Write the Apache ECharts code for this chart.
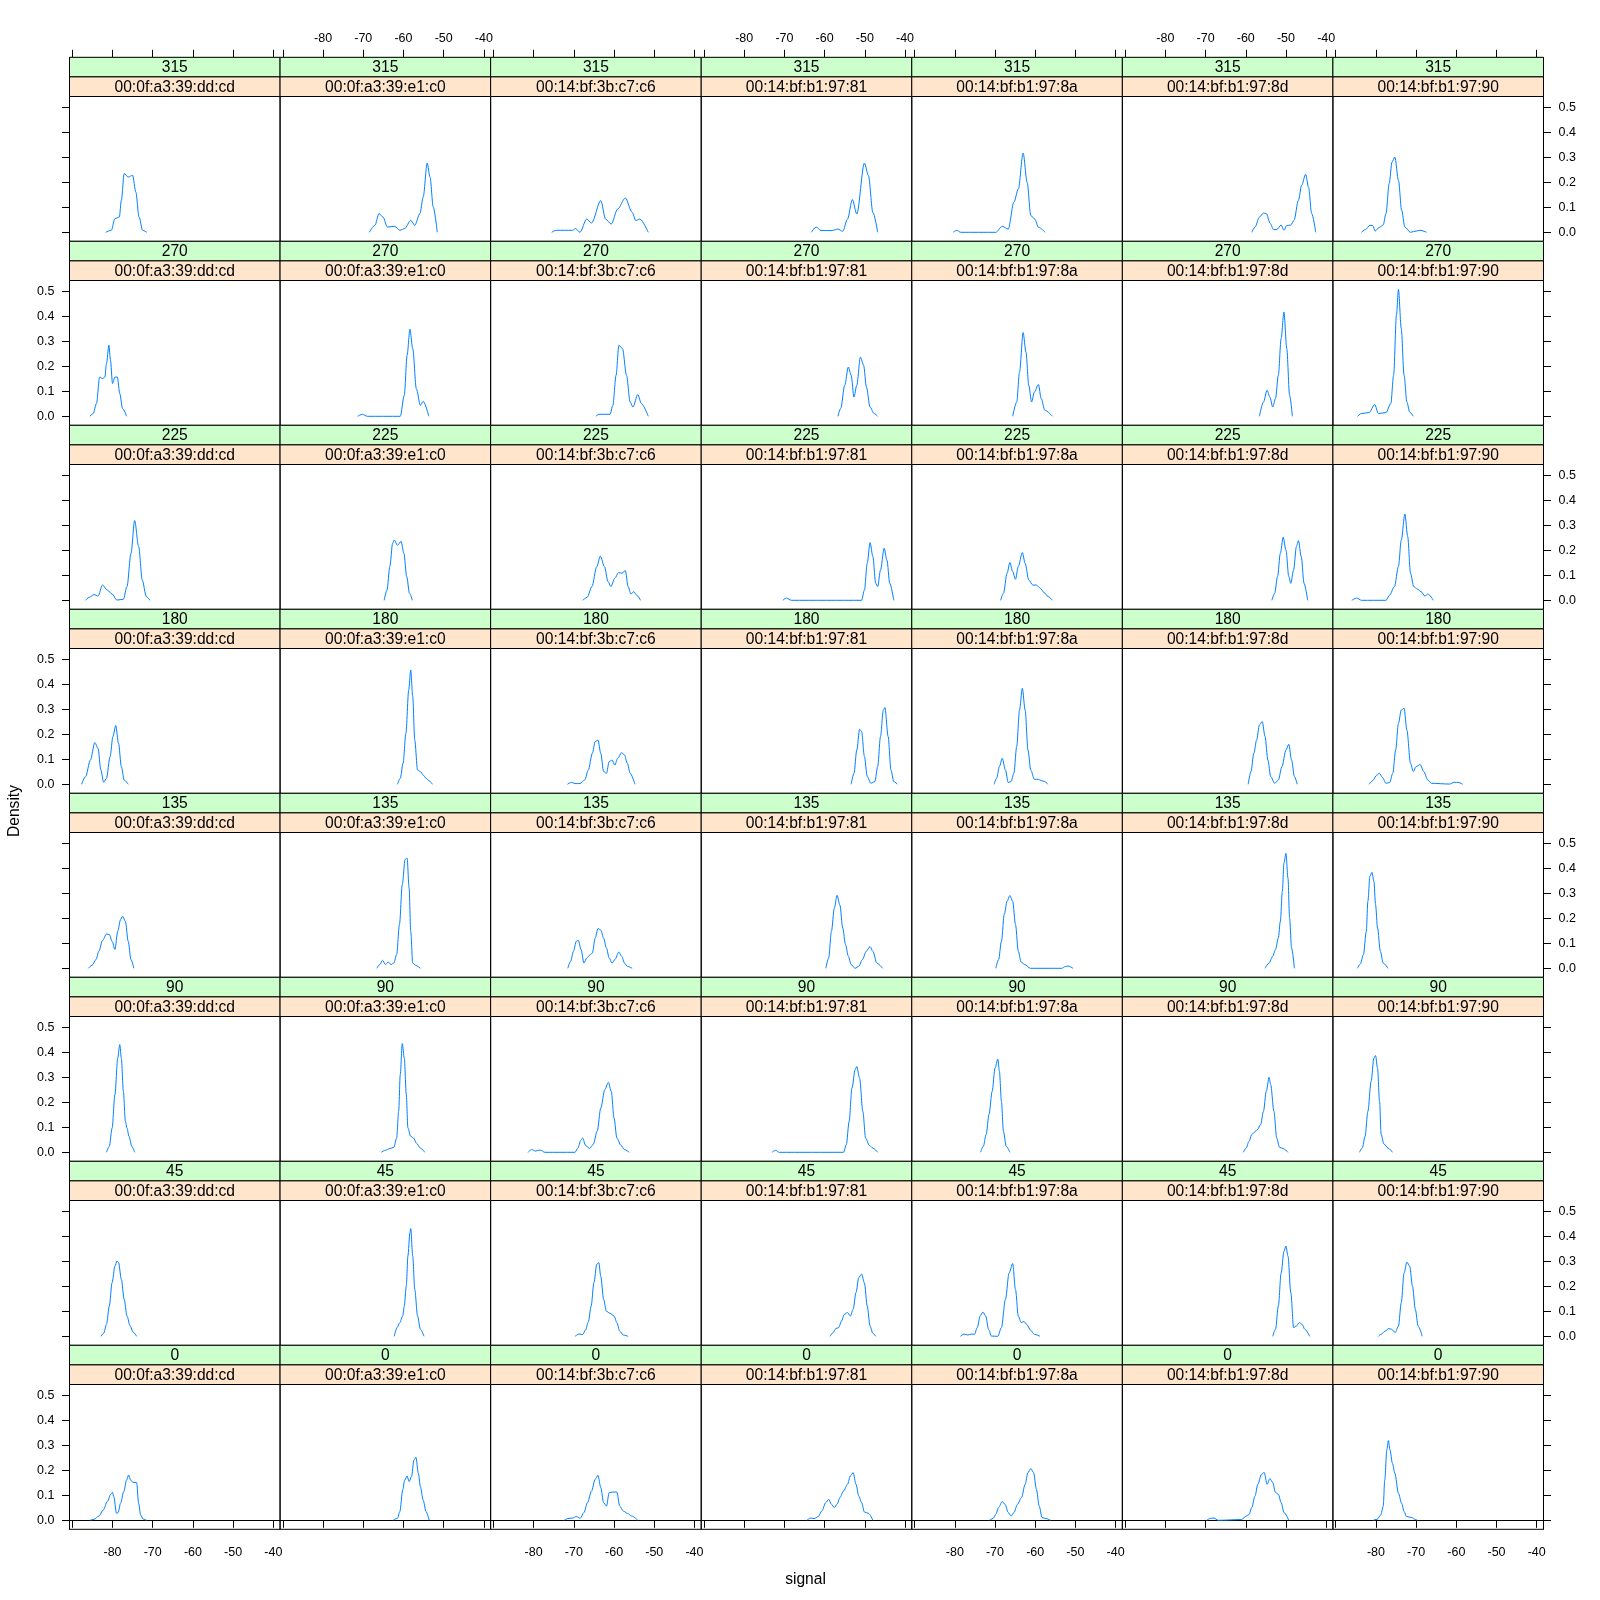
<!DOCTYPE html>
<html><head><meta charset="utf-8">
<script src="https://cdn.jsdelivr.net/npm/echarts@6/dist/echarts.min.js"></script>
<style>html,body{margin:0;padding:0;background:#fff}#c{width:1600px;height:1600px}</style>
</head><body><div id="c"></div>
<script>
const angles = ['315','270','225','180','135','90','45','0'];
const macs = ['00:0f:a3:39:dd:cd','00:0f:a3:39:e1:c0','00:14:bf:3b:c7:c6','00:14:bf:b1:97:81','00:14:bf:b1:97:8a','00:14:bf:b1:97:8d','00:14:bf:b1:97:90'];
const xTickValues = [-90,-80,-70,-60,-50,-40];
const xLabelValues = [-80,-70,-60,-50,-40];
const yTickValues = [0,0.1,0.2,0.3,0.4,0.5];

// density curves [signal, density], one list per MAC, one group per angle
const d315 = [
 [[-81.7,0],[-80.3,0.008],[-79.4,0.055],[-78.3,0.061],[-77.8,0.128],[-77.1,0.235],[-76.1,0.221],[-75.0,0.228],[-74.2,0.161],[-73.4,0.061],[-72.5,0.008],[-71.5,0]],
 [[-68.5,0],[-67.1,0.028],[-66.1,0.075],[-65.1,0.061],[-64.0,0.021],[-62.2,0.024],[-60.9,0.008],[-59.7,0.015],[-58.2,0.048],[-57.2,0.028],[-55.9,0.075],[-55.1,0.141],[-54.1,0.277],[-53.4,0.221],[-52.6,0.101],[-51.6,0]],
 [[-75.5,0],[-74.4,0.008],[-70.3,0.008],[-69.6,0.015],[-68.5,0],[-66.8,0.053],[-65.6,0.037],[-63.3,0.127],[-62.1,0.053],[-60.7,0.033],[-59.1,0.093],[-57.2,0.137],[-55.5,0.08],[-54.6,0.047],[-53.6,0.053],[-51.5,0]],
 [[-63.3,0],[-62.1,0.021],[-60.9,0.007],[-58.1,0.007],[-56.7,0.013],[-55.5,0.004],[-54.3,0.053],[-53.1,0.131],[-52.0,0.073],[-50.1,0.277],[-49.1,0.227],[-48.0,0.08],[-46.8,0]],
 [[-80.4,0],[-79.5,0.008],[-78.5,0],[-69.8,0],[-68.2,0.024],[-66.7,0.013],[-65.3,0.12],[-64.2,0.173],[-63.0,0.317],[-62.0,0.2],[-61.1,0.067],[-60.1,0.053],[-59.2,0.02],[-57.5,0]],
 [[-58.5,0],[-57.7,0.021],[-56.6,0.061],[-55.6,0.077],[-54.9,0.075],[-53.9,0.035],[-53.1,0.011],[-52.3,0.011],[-51.2,0.029],[-50.5,0.008],[-49.8,0.027],[-48.8,0.029],[-48.0,0.048],[-46.9,0.128],[-46.1,0.188],[-45.1,0.232],[-44.4,0.181],[-43.6,0.075],[-42.6,0]],
 [[-83.6,0],[-82.6,0.011],[-81.5,0.028],[-80.8,0.027],[-80.2,0.005],[-79.2,0.019],[-78.2,0.029],[-77.5,0.075],[-76.7,0.195],[-76.0,0.281],[-75.3,0.301],[-74.4,0.208],[-73.6,0.088],[-72.8,0.021],[-71.4,0],[-70.0,0.005],[-69.0,0.008],[-67.4,0]]
];
const d270 = [
 [[-85.6,0],[-84.8,0.011],[-84.0,0.051],[-83.2,0.157],[-82.5,0.151],[-81.9,0.157],[-81.5,0.211],[-80.9,0.284],[-80.5,0.224],[-80.0,0.131],[-79.4,0.157],[-78.8,0.157],[-78.2,0.091],[-77.5,0.031],[-76.5,0]],
 [[-71.4,0],[-70.2,0.008],[-69.0,0],[-60.8,0],[-59.8,0.084],[-59.1,0.244],[-58.4,0.348],[-57.7,0.271],[-56.8,0.11],[-55.8,0.044],[-55.1,0.06],[-53.7,0]],
 [[-64.5,0],[-63.8,0.008],[-61.0,0.008],[-60.3,0.044],[-59.5,0.164],[-58.8,0.284],[-57.9,0.271],[-56.9,0.164],[-56.0,0.057],[-55.3,0.037],[-54.1,0.087],[-53.2,0.051],[-51.5,0]],
 [[-56.7,0],[-56.0,0.031],[-55.0,0.124],[-54.1,0.197],[-53.4,0.164],[-52.7,0.077],[-52.0,0.124],[-51.1,0.237],[-50.3,0.204],[-49.6,0.117],[-48.7,0.037],[-47.7,0.011],[-46.8,0]],
 [[-65.6,0],[-64.6,0.057],[-63.9,0.177],[-63.0,0.335],[-62.3,0.257],[-61.6,0.124],[-60.9,0.057],[-60.2,0.097],[-59.2,0.127],[-58.5,0.071],[-57.6,0.024],[-55.7,0]],
 [[-56.6,0],[-55.6,0.057],[-54.7,0.104],[-54.0,0.077],[-53.3,0.037],[-52.6,0.071],[-51.9,0.164],[-51.2,0.311],[-50.5,0.417],[-49.8,0.271],[-49.1,0.084],[-48.4,0]],
 [[-84.6,0],[-83.6,0.011],[-81.7,0.015],[-80.3,0.047],[-79.4,0.011],[-77.5,0.015],[-76.3,0.051],[-75.6,0.164],[-74.9,0.404],[-74.4,0.508],[-73.7,0.351],[-73.0,0.164],[-72.3,0.057],[-71.6,0.017],[-70.7,0]]
];
const d225 = [
 [[-86.7,0],[-85.8,0.012],[-84.6,0.023],[-83.6,0.017],[-82.5,0.061],[-81.3,0.041],[-80.1,0.025],[-78.9,0.001],[-77.3,0.004],[-76.4,0.055],[-75.4,0.188],[-74.5,0.319],[-73.5,0.215],[-72.6,0.081],[-71.6,0.015],[-70.7,0]],
 [[-64.8,0],[-64.1,0.041],[-63.4,0.135],[-62.7,0.228],[-62.3,0.241],[-61.5,0.22],[-60.6,0.236],[-59.9,0.188],[-59.2,0.095],[-58.5,0.028],[-57.8,0]],
 [[-67.8,0],[-66.7,0.012],[-65.5,0.055],[-64.3,0.135],[-63.4,0.177],[-62.4,0.135],[-61.5,0.075],[-60.8,0.055],[-59.8,0.088],[-58.9,0.111],[-58.0,0.108],[-57.2,0.119],[-56.5,0.055],[-55.8,0.025],[-55.1,0.035],[-54.4,0.021],[-53.4,0]],
 [[-70.4,0],[-69.5,0.009],[-68.3,0],[-50.8,0],[-50.1,0.041],[-49.4,0.148],[-48.7,0.231],[-48.0,0.175],[-47.3,0.068],[-46.8,0.055],[-46.1,0.121],[-45.2,0.208],[-44.5,0.161],[-43.8,0.068],[-42.8,0]],
 [[-68.6,0],[-67.9,0.028],[-67.0,0.108],[-66.3,0.151],[-65.6,0.115],[-64.9,0.084],[-64.2,0.135],[-63.2,0.191],[-62.5,0.148],[-61.6,0.081],[-60.6,0.061],[-59.7,0.061],[-58.7,0.048],[-57.8,0.031],[-56.8,0.015],[-55.7,0]],
 [[-53.5,0],[-52.8,0.028],[-52.1,0.095],[-51.4,0.188],[-50.7,0.252],[-50.0,0.201],[-49.3,0.095],[-48.8,0.068],[-48.1,0.121],[-47.4,0.215],[-46.9,0.239],[-46.2,0.175],[-45.5,0.068],[-44.6,0]],
 [[-86.0,0],[-84.8,0.009],[-83.6,0],[-77.5,0],[-76.6,0.021],[-75.4,0.055],[-74.4,0.135],[-73.7,0.241],[-72.8,0.345],[-72.1,0.255],[-71.4,0.108],[-70.6,0.055],[-69.7,0.045],[-68.8,0.035],[-67.8,0.017],[-67.1,0.025],[-65.7,0]]
];
const d180 = [
 [[-87.7,0],[-86.7,0.031],[-85.5,0.097],[-84.4,0.167],[-83.6,0.144],[-82.9,0.057],[-82.2,0.008],[-81.5,0.024],[-80.6,0.111],[-79.9,0.191],[-79.2,0.235],[-78.5,0.164],[-77.8,0.071],[-77.1,0.017],[-76.1,0]],
 [[-61.5,0],[-60.8,0.024],[-60.1,0.084],[-59.4,0.204],[-58.7,0.377],[-58.2,0.457],[-57.7,0.351],[-57.2,0.177],[-56.5,0.057],[-55.8,0.051],[-55.1,0.037],[-54.4,0.024],[-53.7,0.015],[-52.8,0]],
 [[-71.6,0],[-70.6,0.008],[-69.7,0.003],[-68.5,0.003],[-67.3,0.017],[-66.4,0.057],[-65.4,0.124],[-64.7,0.171],[-64.0,0.177],[-63.3,0.124],[-62.6,0.051],[-61.9,0.044],[-61.2,0.091],[-60.5,0.097],[-59.8,0.077],[-59.1,0.104],[-58.1,0.127],[-57.4,0.117],[-56.7,0.084],[-56.0,0.044],[-54.8,0]],
 [[-53.4,0],[-52.7,0.044],[-52.0,0.137],[-51.3,0.22],[-50.8,0.211],[-50.1,0.111],[-49.4,0.031],[-48.5,0.004],[-47.5,0.011],[-46.8,0.071],[-46.1,0.191],[-45.4,0.297],[-45.0,0.307],[-44.2,0.191],[-43.5,0.057],[-42.8,0.011],[-41.9,0]],
 [[-70.2,0],[-69.6,0.024],[-68.9,0.071],[-68.2,0.104],[-67.4,0.057],[-66.7,0.007],[-66.0,0.011],[-65.3,0.044],[-64.6,0.151],[-63.9,0.297],[-63.2,0.384],[-62.5,0.297],[-61.8,0.137],[-61.1,0.057],[-60.2,0.02],[-59.2,0.02],[-58.5,0.015],[-57.6,0.011],[-56.9,0]],
 [[-59.4,0],[-58.7,0.051],[-58.0,0.124],[-57.3,0.177],[-56.6,0.237],[-55.9,0.251],[-55.2,0.191],[-54.5,0.097],[-53.8,0.031],[-52.8,0.004],[-51.9,0.017],[-51.0,0.071],[-50.0,0.137],[-49.3,0.16],[-48.6,0.097],[-47.9,0.031],[-47.2,0]],
 [[-81.7,0],[-80.8,0.015],[-79.8,0.037],[-79.1,0.044],[-78.4,0.028],[-77.5,0.004],[-76.6,0.007],[-75.8,0.044],[-75.1,0.137],[-74.4,0.244],[-73.7,0.297],[-73.0,0.304],[-72.3,0.217],[-71.4,0.084],[-70.7,0.051],[-70.0,0.071],[-69.0,0.079],[-68.1,0.051],[-67.1,0.017],[-66.2,0.004],[-61.7,0.001],[-60.5,0.008],[-59.4,0.007],[-58.4,0]]
];
const d135 = [
 [[-86.0,0],[-85.1,0.012],[-84.1,0.035],[-83.4,0.068],[-82.5,0.111],[-81.5,0.137],[-80.8,0.135],[-80.1,0.108],[-79.4,0.075],[-78.7,0.148],[-78.0,0.195],[-77.5,0.208],[-76.8,0.188],[-76.1,0.108],[-75.4,0.035],[-74.7,0]],
 [[-66.6,0],[-65.9,0.015],[-65.2,0.032],[-64.5,0.015],[-63.8,0.025],[-63.1,0.015],[-62.4,0.021],[-61.7,0.055],[-61.0,0.175],[-60.3,0.335],[-59.6,0.435],[-59.1,0.441],[-58.6,0.321],[-58.2,0.148],[-57.7,0.021],[-57.0,0.012],[-55.8,0]],
 [[-71.5,0],[-70.8,0.028],[-70.1,0.068],[-69.4,0.108],[-68.9,0.112],[-68.2,0.075],[-67.5,0.021],[-66.8,0.041],[-66.1,0.052],[-65.4,0.061],[-64.7,0.121],[-64.0,0.159],[-63.3,0.153],[-62.6,0.121],[-61.9,0.081],[-61.2,0.041],[-60.5,0.021],[-59.8,0.035],[-58.8,0.065],[-58.1,0.048],[-57.4,0.021],[-56.7,0.008],[-55.5,0]],
 [[-59.7,0],[-59.0,0.041],[-58.3,0.148],[-57.6,0.24],[-56.9,0.292],[-56.2,0.253],[-55.5,0.161],[-54.8,0.095],[-54.1,0.048],[-53.4,0.015],[-52.4,0],[-51.5,0.008],[-50.6,0.035],[-49.6,0.069],[-48.7,0.087],[-48.0,0.068],[-47.0,0.021],[-45.6,0]],
 [[-69.8,0],[-69.1,0.035],[-68.4,0.108],[-67.7,0.215],[-67.0,0.268],[-66.3,0.291],[-65.6,0.268],[-64.9,0.175],[-64.2,0.068],[-63.5,0.025],[-62.6,0.015],[-61.2,0],[-53.4,0],[-52.5,0.007],[-51.8,0.009],[-50.6,0]],
 [[-55.2,0],[-54.2,0.021],[-53.3,0.048],[-52.6,0.075],[-51.9,0.121],[-51.4,0.188],[-50.9,0.308],[-50.5,0.421],[-50.0,0.46],[-49.5,0.361],[-49.1,0.201],[-48.6,0.081],[-47.9,0]],
 [[-84.6,0],[-83.9,0.017],[-83.1,0.055],[-82.4,0.148],[-82.0,0.268],[-81.5,0.368],[-81.0,0.384],[-80.5,0.348],[-80.1,0.255],[-79.6,0.161],[-78.9,0.068],[-78.2,0.021],[-77.0,0]]
];
const d90 = [
 [[-81.5,0],[-80.8,0.024],[-80.1,0.097],[-79.4,0.231],[-78.7,0.377],[-78.2,0.431],[-77.8,0.377],[-77.3,0.244],[-76.8,0.124],[-76.4,0.097],[-75.9,0.064],[-75.2,0.024],[-74.5,0]],
 [[-65.5,0],[-64.5,0.008],[-63.4,0.015],[-62.4,0.02],[-61.7,0.057],[-61.2,0.164],[-60.8,0.311],[-60.3,0.435],[-59.8,0.377],[-59.3,0.231],[-58.9,0.097],[-58.2,0.064],[-57.5,0.057],[-56.8,0.037],[-55.8,0.017],[-54.7,0]],
 [[-81.4,0],[-80.5,0.011],[-79.6,0.005],[-78.4,0.009],[-77.2,0],[-69.7,0],[-69.0,0.017],[-68.3,0.047],[-67.8,0.057],[-67.1,0.028],[-66.1,0.015],[-65.2,0.031],[-64.2,0.084],[-63.3,0.177],[-62.3,0.251],[-61.4,0.28],[-60.7,0.244],[-60.0,0.137],[-59.3,0.057],[-58.3,0.028],[-57.4,0.011],[-56.2,0]],
 [[-73.1,0],[-72.2,0.008],[-71.3,0],[-55.3,0],[-54.6,0.031],[-53.9,0.124],[-53.2,0.257],[-52.4,0.331],[-52.0,0.343],[-51.3,0.297],[-50.5,0.164],[-49.8,0.057],[-48.9,0.028],[-48.0,0.017],[-46.8,0]],
 [[-73.6,0],[-72.9,0.024],[-72.2,0.071],[-71.5,0.151],[-70.7,0.244],[-70.0,0.337],[-69.3,0.373],[-68.9,0.324],[-68.4,0.204],[-67.9,0.084],[-67.2,0.024],[-66.3,0]],
 [[-60.6,0],[-59.9,0.017],[-59.2,0.044],[-58.5,0.071],[-57.8,0.081],[-57.1,0.091],[-56.3,0.111],[-55.6,0.164],[-54.9,0.244],[-54.2,0.3],[-53.8,0.271],[-53.0,0.164],[-52.3,0.057],[-51.6,0.02],[-50.7,0.015],[-49.5,0]],
 [[-84.1,0],[-83.4,0.017],[-82.7,0.064],[-82.0,0.164],[-81.2,0.284],[-80.5,0.377],[-80.1,0.387],[-79.6,0.337],[-79.1,0.204],[-78.7,0.071],[-78.0,0.033],[-77.0,0.017],[-75.9,0]]
];
const d45 = [
 [[-82.9,0],[-82.2,0.012],[-81.5,0.048],[-80.8,0.121],[-80.1,0.215],[-79.4,0.281],[-78.9,0.301],[-78.5,0.295],[-77.8,0.228],[-77.1,0.148],[-76.4,0.081],[-75.6,0.041],[-74.9,0.017],[-74.0,0]],
 [[-62.3,0],[-61.6,0.035],[-60.9,0.055],[-60.2,0.081],[-59.8,0.121],[-59.3,0.201],[-58.9,0.321],[-58.4,0.415],[-58.2,0.431],[-57.7,0.321],[-57.2,0.188],[-56.5,0.081],[-55.8,0.028],[-54.9,0]],
 [[-69.7,0],[-68.7,0.009],[-67.8,0.007],[-67.1,0.025],[-66.4,0.057],[-65.7,0.121],[-65.0,0.215],[-64.3,0.288],[-63.8,0.295],[-63.3,0.24],[-62.6,0.148],[-61.9,0.1],[-61.0,0.092],[-60.0,0.081],[-59.3,0.055],[-58.6,0.021],[-57.7,0.005],[-56.5,0]],
 [[-58.6,0],[-57.9,0.015],[-57.2,0.031],[-56.5,0.035],[-55.8,0.061],[-55.1,0.088],[-54.3,0.095],[-53.6,0.081],[-52.9,0.108],[-52.2,0.175],[-51.5,0.235],[-50.8,0.249],[-50.1,0.213],[-49.4,0.121],[-48.7,0.041],[-48.0,0.012],[-47.3,0]],
 [[-78.6,0],[-77.7,0.009],[-76.8,0.005],[-75.8,0.009],[-75.1,0.008],[-74.4,0.035],[-73.7,0.081],[-73.0,0.097],[-72.3,0.081],[-71.6,0.028],[-70.9,0.001],[-69.3,0],[-68.4,0.035],[-67.4,0.148],[-66.5,0.253],[-65.6,0.291],[-64.9,0.187],[-64.2,0.081],[-63.5,0.055],[-62.8,0.059],[-62.1,0.048],[-61.2,0.025],[-60.2,0.008],[-58.8,0]],
 [[-53.3,0],[-52.6,0.028],[-51.9,0.121],[-51.2,0.253],[-50.5,0.34],[-50.0,0.361],[-49.5,0.321],[-48.8,0.175],[-48.1,0.035],[-47.4,0.041],[-46.7,0.055],[-46.0,0.048],[-45.3,0.028],[-44.1,0]],
 [[-79.4,0],[-78.7,0.008],[-77.7,0.021],[-76.8,0.031],[-76.1,0.028],[-75.2,0.015],[-74.4,0.041],[-73.7,0.135],[-73.0,0.253],[-72.3,0.297],[-71.6,0.28],[-70.9,0.2],[-70.2,0.108],[-69.5,0.041],[-68.5,0]]
];
const d0 = [
 [[-85.6,0],[-84.6,0.004],[-83.4,0.017],[-82.3,0.041],[-81.3,0.075],[-80.4,0.105],[-80.0,0.112],[-79.7,0.095],[-79.0,0.028],[-78.6,0.031],[-78.0,0.068],[-77.2,0.115],[-76.5,0.161],[-76.0,0.181],[-75.5,0.161],[-74.9,0.152],[-74.0,0.151],[-73.5,0.068],[-73.0,0.021],[-72.4,0.005],[-71.5,0]],
 [[-62.6,0],[-61.5,0.008],[-60.9,0.035],[-60.2,0.121],[-59.7,0.161],[-59.1,0.177],[-58.6,0.155],[-58.0,0.175],[-57.4,0.241],[-56.9,0.252],[-56.3,0.188],[-55.8,0.135],[-55.1,0.081],[-54.4,0.035],[-53.6,0]],
 [[-72.4,0],[-71.5,0.007],[-70.3,0.009],[-69.4,0.015],[-68.4,0.008],[-67.5,0.031],[-66.6,0.071],[-65.6,0.117],[-64.7,0.164],[-64.0,0.18],[-63.3,0.131],[-62.6,0.071],[-61.9,0.057],[-61.2,0.111],[-60.3,0.113],[-59.3,0.113],[-58.6,0.057],[-57.7,0.037],[-56.7,0.028],[-55.6,0.017],[-54.1,0]],
 [[-64.4,0],[-63.5,0.009],[-62.6,0.007],[-61.6,0.015],[-60.7,0.037],[-59.7,0.071],[-59.0,0.084],[-58.3,0.064],[-57.6,0.051],[-56.9,0.064],[-56.2,0.091],[-55.3,0.117],[-54.3,0.144],[-53.6,0.177],[-52.9,0.191],[-52.2,0.144],[-51.5,0.097],[-50.8,0.071],[-50.1,0.033],[-49.1,0.028],[-48.0,0]],
 [[-71.4,0],[-70.5,0.007],[-69.8,0.024],[-69.1,0.051],[-68.2,0.075],[-67.5,0.064],[-66.7,0.031],[-66.0,0.017],[-65.3,0.031],[-64.4,0.064],[-63.4,0.091],[-62.5,0.144],[-61.8,0.191],[-61.1,0.207],[-60.4,0.191],[-59.7,0.124],[-59.0,0.057],[-58.3,0.011],[-57.3,0.007],[-56.2,0]],
 [[-69.7,0],[-68.8,0.008],[-67.9,0.009],[-66.9,0],[-61.0,0.003],[-60.1,0.015],[-59.2,0.023],[-58.5,0.051],[-57.7,0.097],[-57.0,0.144],[-56.1,0.184],[-55.4,0.191],[-54.7,0.144],[-54.0,0.167],[-53.3,0.151],[-52.6,0.111],[-51.9,0.104],[-51.2,0.071],[-50.5,0.031],[-49.3,0]],
 [[-80.7,0],[-79.7,0.004],[-78.8,0.021],[-78.2,0.055],[-77.8,0.161],[-77.3,0.281],[-76.9,0.319],[-76.5,0.281],[-75.9,0.228],[-75.3,0.188],[-74.4,0.108],[-73.6,0.068],[-73.0,0.035],[-72.4,0.015],[-71.1,0.011],[-70.3,0.004],[-69.7,0]]
];
const rowsData = [d315, d270, d225, d180, d135, d90, d45, d0];

const FONT = '"Liberation Sans", Arial, sans-serif';
const L = 69.5, T = 57.3, CW = 210.57, RH = 184, SH = 19.6, PH = RH - 2 * SH;
const XMIN = -90.7, XMAX = -38.32, YMIN = -0.036, YMAX = YMIN + PH / 250;
const TICK = 7.5;

const grids = [], xAxes = [], yAxes = [], series = [], graphics = [];
const black = '#000';
function xAxisDef(i, show, showLabel, margin, inside) {
  return {
    gridIndex: i, type: 'value', min: XMIN, max: XMAX, show: show, position: 'bottom',
    axisLine: {show: true, lineStyle: {color: black, width: 1}},
    axisTick: {show: true, inside: inside, length: TICK, customValues: xTickValues, lineStyle: {color: black, width: 1}},
    axisLabel: {show: showLabel, inside: inside, customValues: xLabelValues, margin: margin,
      color: black, fontSize: 12.5, fontFamily: FONT},
    splitLine: {show: false}
  };
}
angles.forEach((ang, r) => {
  macs.forEach((mac, c) => {
    const i = grids.length;
    const left = L + c * CW, stripTop = T + r * RH, top = stripTop + 2 * SH;
    grids.push({left: left, top: top, width: CW, height: PH, show: true, borderColor: black, borderWidth: 1, backgroundColor: 'rgba(0,0,0,0)'});
    xAxes.push(xAxisDef(i, r === 7, c % 2 === 0, 17, false));
    const showY = (c === 0 || c === 6);
    yAxes.push({
      gridIndex: i, type: 'value', min: YMIN, max: YMAX, show: showY,
      position: c === 0 ? 'left' : 'right',
      axisLine: {show: true, lineStyle: {color: black, width: 1}},
      axisTick: {show: true, length: TICK, customValues: yTickValues, lineStyle: {color: black, width: 1}},
      axisLabel: {show: c === 0 ? r % 2 === 1 : r % 2 === 0, customValues: yTickValues,
        margin: 15, color: black, fontSize: 12.5, fontFamily: FONT,
        formatter: v => Number(v).toFixed(1)},
      splitLine: {show: false}
    });
    series.push({
      type: 'line', xAxisIndex: i, yAxisIndex: i, data: rowsData[r][c],
      showSymbol: false, symbol: 'none', smooth: 0.3, smoothMonotone: 'x', silent: true,
      lineStyle: {color: '#0080ff', width: 1}, animation: false
    });
    graphics.push({type: 'rect', z: 100, shape: {x: left, y: stripTop, width: CW, height: SH},
      style: {fill: '#ccffcc', stroke: black, lineWidth: 1}});
    graphics.push({type: 'rect', z: 100, shape: {x: left, y: stripTop + SH, width: CW, height: SH},
      style: {fill: '#ffe5cc', stroke: black, lineWidth: 1}});
    graphics.push({type: 'text', z: 101, x: left + CW / 2, y: stripTop + SH / 2 + 1,
      style: {text: ang, fill: black, font: '15.6px ' + FONT, textAlign: 'center', textVerticalAlign: 'middle', align: 'center', verticalAlign: 'middle'}});
    graphics.push({type: 'text', z: 101, x: left + CW / 2, y: stripTop + SH * 1.5 + 1,
      style: {text: mac, fill: black, font: '15.6px ' + FONT, textAlign: 'center', textVerticalAlign: 'middle', align: 'center', verticalAlign: 'middle'}});
  });
});
// top axes: a band above the first row, its bottom edge on the strip top, ticks and labels pointing up
macs.forEach((mac, c) => {
  const i = grids.length;
  grids.push({left: L + c * CW, top: 0, width: CW, height: T, show: false});
  xAxes.push(xAxisDef(i, true, c % 2 === 1, 12, true));
  yAxes.push({gridIndex: i, type: 'value', min: 0, max: 1, show: false});
});
graphics.push({type: 'text', z: 101, x: 15, y: 811, rotation: Math.PI / 2,
  style: {text: 'Density', fill: black, font: '15.6px ' + FONT, textAlign: 'center', textVerticalAlign: 'middle', align: 'center', verticalAlign: 'middle'}});
graphics.push({type: 'text', z: 101, x: 805.5, y: 1580,
  style: {text: 'signal', fill: black, font: '15.6px ' + FONT, textAlign: 'center', textVerticalAlign: 'middle', align: 'center', verticalAlign: 'middle'}});

const chart = echarts.init(document.getElementById('c'), null, {renderer: 'canvas', width: 1600, height: 1600});
chart.setOption({
  animation: false,
  backgroundColor: '#fff',
  grid: grids, xAxis: xAxes, yAxis: yAxes, series: series,
  graphic: {elements: graphics}
});
</script></body></html>
